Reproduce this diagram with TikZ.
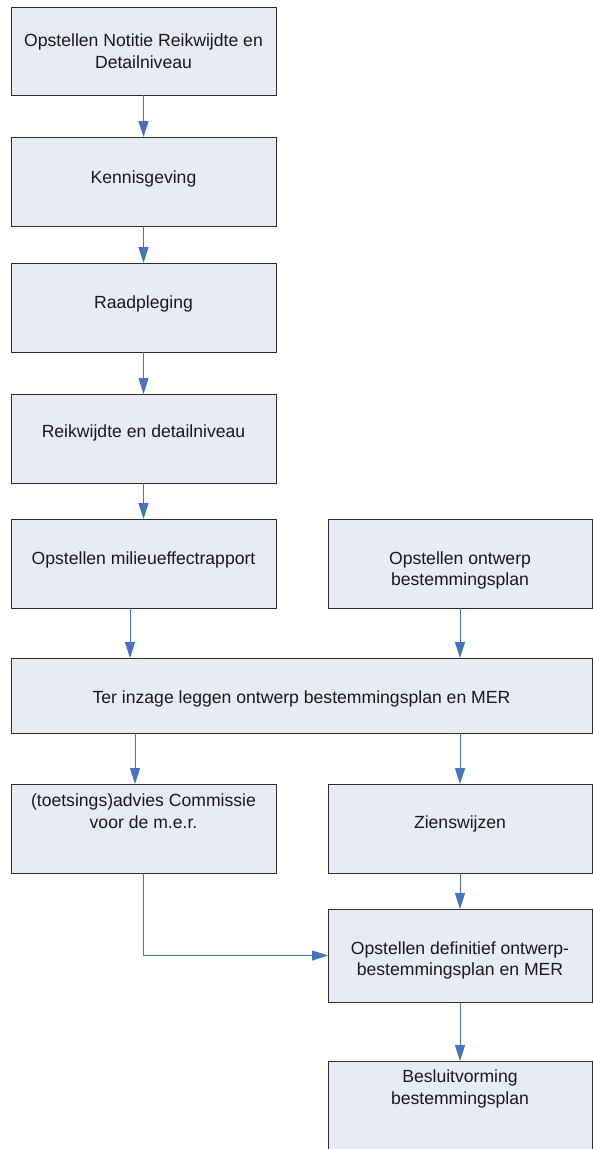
\documentclass[tikz,border=0pt]{standalone}
\usepackage{fontspec}
\setmainfont{Liberation Sans}
\usetikzlibrary{arrows.meta,fit}
\definecolor{boxfill}{RGB}{232,235,244}
\definecolor{boxline}{RGB}{45,45,45}
\definecolor{arrowblue}{RGB}{68,114,196}
\newcommand\lblfont{\fontsize{17.6}{21.3}\selectfont}
\tikzset{
  box/.style={draw=boxline, fill=boxfill, line width=0.9pt, inner sep=0pt, outer sep=0pt},
  lbl/.style={font=\lblfont, align=center, inner sep=0pt, outer sep=0pt, anchor=north, text=black!90},
  arr/.style={draw=arrowblue, line width=1pt, -{Triangle[length=16pt,width=10pt]}},
}
\begin{document}
\begin{tikzpicture}[x=1pt,y=-1pt]
\useasboundingbox (0,0) rectangle (593,1149);
\clip (0,0) rectangle (593,1149);
% boxes
\node[box, fit={(11,7) (276,95)}] (b1) {};
\node[box, fit={(11,137) (276,226)}] (b2) {};
\node[box, fit={(11,263) (276,352)}] (b3) {};
\node[box, fit={(11,394) (276,483)}] (b4) {};
\node[box, fit={(11,519) (276,608)}] (b5l) {};
\node[box, fit={(328,519) (592,608)}] (b5r) {};
\node[box, fit={(11,658) (592,733)}] (bti) {};
\node[box, fit={(11,784) (276,873)}] (b7l) {};
\node[box, fit={(328,784) (592,873)}] (b7r) {};
\node[box, fit={(328,909) (592,1002)}] (b8) {};
\node[box, fit={(328,1061) (592,1175)}] (b9) {};
% labels
\node[lbl] (t1) at (143.5,31.8) {\strut Opstellen Notitie Reikwijdte en\\\strut Detailniveau};
\node[lbl] (t2) at (143.5,168.6) {\strut Kennisgeving};
\node[lbl] (t3) at (143.5,293.4) {\strut Raadpleging};
\node[lbl] (t4) at (143.5,422.1) {\strut Reikwijdte en detailniveau};
\node[lbl] (t5l) at (143.5,549.4) {\strut Opstellen milieueffectrapport};
\node[lbl] (t5r) at (460,549.4) {\strut Opstellen ontwerp\\\strut bestemmingsplan};
\node[lbl] (tti) at (301.5,688.1) {\strut Ter inzage leggen ontwerp bestemmingsplan en MER};
\node[lbl] (t7l) at (143.5,791.8) {\strut (toetsings)advies Commissie\\\strut voor de m.e.r.};
\node[lbl] (t7r) at (460,813.4) {\strut Zienswijzen};
\node[lbl] (t8) at (460,939.1) {\strut Opstellen definitief ontwerp-\\\strut bestemmingsplan en MER};
\node[lbl] (t9) at (460,1067.8) {\strut Besluitvorming\\\strut bestemmingsplan};
% helper coordinates
\coordinate (c130) at (130,0);
\coordinate (c135) at (135,0);
% connectors
\draw[arr] (b1.south) -- (b2.north);
\draw[arr] (b2.south) -- (b3.north);
\draw[arr] (b3.south) -- (b4.north);
\draw[arr] (b4.south) -- (b5l.north);
\draw[arr] (b5l.south -| c130) -- (bti.north -| c130);
\draw[arr] (b5r.south) -- (bti.north -| b5r.south);
\draw[arr] (bti.south -| c135) -- (b7l.north -| c135);
\draw[arr] (bti.south -| b7r.north) -- (b7r.north);
\draw[arr] (b7r.south) -- (b8.north);
\draw[arr] (b7l.south) |- (b8.west);
\draw[arr] (b8.south) -- (b9.north);
\end{tikzpicture}
\end{document}
